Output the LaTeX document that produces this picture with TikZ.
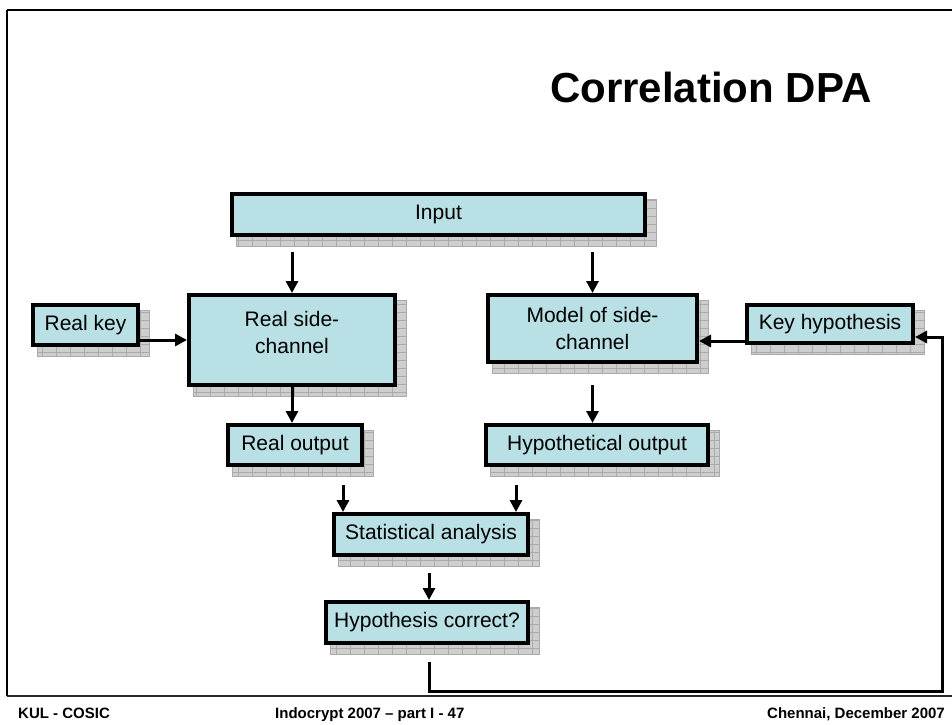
\documentclass[tikz,border=0pt]{standalone}
\usepackage{fontspec}
\setmainfont{Liberation Sans}
\usetikzlibrary{arrows.meta,backgrounds}

\definecolor{boxfill}{RGB}{185,224,228}
\definecolor{shadowfill}{RGB}{206,206,206}
\definecolor{shadowgrid}{RGB}{170,170,170}

% grey gridded drop shadow behind a named box
\newcommand\boxshadow[1]{%
  \begin{scope}[on background layer]
    \path ([shift={(6,7)}]#1.north west) coordinate (sa)
          ([shift={(9,9)}]#1.south east) coordinate (sb);
    \fill[shadowfill] (sa) rectangle (sb);
    \begin{scope}
      \clip (sa) rectangle (sb);
      \draw[shadowgrid, line width=0.4pt, xstep=14pt, ystep=8pt] (0,0) grid (952,724);
    \end{scope}
    \draw[shadowgrid, line width=0.6pt] (sa) rectangle (sb);
  \end{scope}}

\tikzset{
  boxfont/.style={font=\fontsize{21}{27}\selectfont},
  box/.style={draw=black, line width=4pt, fill=boxfill, inner sep=0pt,
    boxfont, align=center},
  arr/.style={line width=3pt, -{Triangle[length=12pt,width=12pt]}},
  frameline/.style={line width=2.5pt, black},
  foot/.style={font=\fontsize{15}{18}\selectfont\bfseries, inner sep=0pt}
}

\begin{document}
\begin{tikzpicture}[x=1pt, y=-1pt]
  \useasboundingbox (0,0) rectangle (952,724);

  % slide frame
  \draw[frameline] (7,10) -- (952,10);
  \draw[frameline] (7,10) -- (7,696);
  \draw[line width=2pt, black!85] (7,696) -- (952,696);

  % title
  \node[anchor=base west, inner sep=0pt, font=\fontsize{42}{50}\selectfont\bfseries]
    (title) at (550,102) {Correlation DPA};

  % boxes
  \node[box, minimum width=413, minimum height=41] (input)   at (438.5,214.5) {Input};
  \node[box, minimum width=105, minimum height=40] (realkey) at (85.5,325) {Real key};
  \node[box, minimum width=206, minimum height=90] (realsc)  at (292,340) {};
  \node[inner sep=0pt, boxfont, align=center]
    (realsctext) at (292,332) {Real side-\\channel};
  \node[box, minimum width=209, minimum height=67] (model)   at (592.5,328.5) {Model of side-\\channel};
  \node[box, minimum width=166, minimum height=38] (keyhyp)  at (830,324) {Key hypothesis};
  \node[box, minimum width=134, minimum height=40] (realout) at (295,445) {Real output};
  \node[box, minimum width=222, minimum height=40] (hypout)  at (597,445) {Hypothetical output};
  \node[box, minimum width=194, minimum height=41] (stat)    at (431,534.5) {Statistical analysis};
  \node[box, minimum width=202, minimum height=41] (hypcor)  at (427,622.5) {Hypothesis correct?};

  \boxshadow{input}
  \boxshadow{realkey}
  \boxshadow{realsc}
  \boxshadow{model}
  \boxshadow{keyhyp}
  \boxshadow{realout}
  \boxshadow{hypout}
  \boxshadow{stat}
  \boxshadow{hypcor}

  % arrow tails
  \coordinate (inL) at (292,252);
  \coordinate (inR) at (592.5,252);
  \coordinate (rk)  at (140,340);
  \coordinate (kh)  at ([yshift=-17pt]keyhyp.west);
  \coordinate (mo)  at (592.5,385);
  \coordinate (ro)  at (343,485);
  \coordinate (ho)  at (516,485);
  \coordinate (st)  at (429,573);
  \coordinate (hc)  at (429,662);
  \coordinate (fb)  at (942,691);

  % connectors
  \draw[arr] (inL) -- (realsc.north);
  \draw[arr] (inR) -- (model.north);
  \draw[arr] (rk) -- (rk -| realsc.west);
  \draw[arr] (kh) -- (kh -| model.east);
  \draw[arr] (realsc.south) -- (realsc.south |- realout.north);
  \draw[arr] (mo) -- (mo |- hypout.north);
  \draw[arr] (ro) -- (ro |- stat.north);
  \draw[arr] (ho) -- (ho |- stat.north);
  \draw[arr] (st) -- (st |- hypcor.north);
  \draw[arr] (hc) |- (fb) |- ([yshift=-13pt]keyhyp.east);

  % footer
  \node[foot, anchor=base west] (fl) at (18,718) {KUL - COSIC};
  \node[foot, anchor=base west] (fm) at (275,718) {Indocrypt 2007 – part I - 47};
  \node[foot, anchor=base east] (fr) at (945,718) {Chennai, December 2007};
\end{tikzpicture}
\end{document}
